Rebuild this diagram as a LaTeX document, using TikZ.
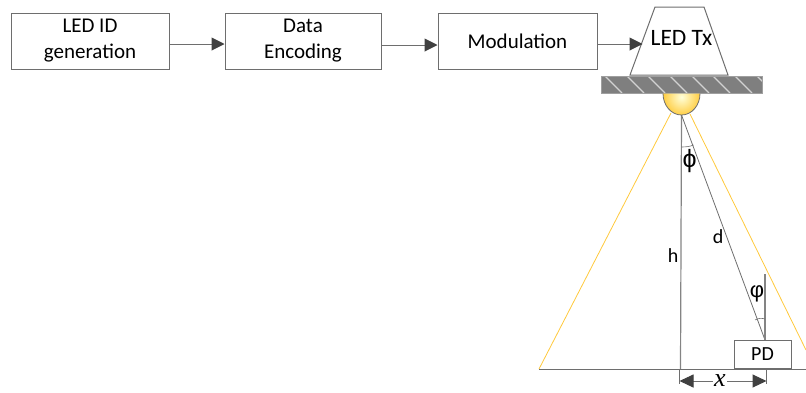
\documentclass[tikz,border=0pt]{standalone}
\usepackage{fontspec}
\setmainfont{Carlito}
\newfontfamily\symfont{Liberation Sans}
\newfontfamily\serifx{Liberation Serif}
\usetikzlibrary{arrows.meta,positioning,shapes.geometric}
\definecolor{edgegray}{HTML}{6E6E6E}
\definecolor{tipgray}{HTML}{404040}
\definecolor{beam}{HTML}{FFC93C}
\definecolor{barfill}{HTML}{7F7F7F}
\definecolor{ledgold}{HTML}{FFBE14}
\tikzset{
  stepbox/.style={draw=edgegray,line width=1pt,minimum width=#1,minimum height=56pt,inner sep=0pt,align=center,font=\fontsize{21}{26}\selectfont},
  flow/.style={draw=edgegray,line width=1pt,-{Triangle[length=13pt,width=13pt,color=tipgray]}},
  thin line/.style={draw=edgegray,line width=1pt},
  beamline/.style={draw=beam,line width=0.8pt},
  lab/.style={inner sep=0pt,font=\fontsize{20}{22}\selectfont},
}
\begin{document}
\begin{tikzpicture}[x=1pt,y=-1pt]
\useasboundingbox (0,0) rectangle (806,392);
\node[stepbox=158pt] (idgen) at (90,41) {LED ID\\generation};
\node[stepbox=156pt] (enc) at (303,41) {Data\\Encoding};
\node[stepbox=159pt] (mod) at (517.5,41) {Modulation};
% trapezoid
\coordinate (tl) at (655,7); \coordinate (tr) at (704,7);
\coordinate (bl) at (630,75); \coordinate (br) at (728,75);
\draw[thin line,fill=white] (tl) -- (tr) -- (br) -- (bl) -- cycle;
\node[inner sep=0pt,font=\fontsize{23.5}{26}\selectfont] (tx) at (681.5,38) {LED Tx};
\coordinate (txin) at (642.5,44);
\draw[flow] (idgen.east |- 0,44) -- (enc.west |- 0,44);
\draw[flow] (enc.east |- 0,45) -- (mod.west |- 0,45);
\draw[flow] (mod.east |- 0,44) -- (txin);
% bar
\coordinate (bar1) at (601,76); \coordinate (bar2) at (762,93);
\fill[barfill] (bar1) rectangle (bar2);
\begin{scope}
\clip (bar1) rectangle (bar2);
\foreach \s in {605,627,648,670,692,713,735,757}
  \draw[white!65!barfill,line width=1.3pt] (\s,76) -- (\s+17,93);
\end{scope}
\draw[draw=barfill!75!white,line width=1pt] (bar1) rectangle (bar2);
% LED dome
\coordinate (ledtip) at (681.5,115);
\begin{scope}
\clip (663,93.5) arc[start angle=180,end angle=0,x radius=18.5,y radius=21.5] -- cycle;
\shade[inner color=yellow!15!white,outer color=ledgold,shading=radial] (681.5,97) circle[radius=24];
\end{scope}
\draw[edgegray,line width=0.8pt] (663,93.5) arc[start angle=180,end angle=0,x radius=18.5,y radius=21.5];
% beams
\coordinate (bl1) at (671,113); \coordinate (bl2) at (539,369);
\coordinate (br1) at (690,114); \coordinate (br2) at (806,350);
\draw[beamline] (bl1) -- (bl2);
\draw[beamline] (br1) -- (br2);
% PD
\node[draw=edgegray,line width=1pt,minimum width=57pt,minimum height=28pt,inner sep=0pt,font=\fontsize{20}{22}\selectfont] (pd) at (762.5,354) {PD};
% geometry
\coordinate (foot) at (680.5,369);
\coordinate (gl) at (539,369.5); \coordinate (gr) at (806,369.5);
\coordinate (normtop) at (765,274); \coordinate (pdtop) at (765,340);
\draw[edgegray,line width=1.1pt] (gl) -- (gr);
\draw[edgegray!85!white,line width=1.2pt] (ledtip) -- (foot);
\draw[edgegray,line width=0.8pt] (ledtip) -- (pdtop);
\draw[edgegray!85!white,line width=1.1pt] (normtop) -- (pdtop);
\draw[edgegray,line width=0.6pt] (681.5,147) .. controls (686,147) and (690,146.5) .. (693.5,145);
\draw[edgegray,line width=0.6pt] (755,320) .. controls (758,318) and (762,318) .. (765,319);
% labels
\node[inner sep=0pt,font=\symfont\fontsize{25}{26}\selectfont] (phi) at (689.5,161) {ϕ};
\node[inner sep=0pt,font=\symfont\fontsize{22}{24}\selectfont] (vphi) at (757,294) {φ};
\node[lab] (h) at (673,256) {h};
\node[lab] (d) at (718,237) {d};
% x dimension
\coordinate (xl) at (679.5,369.5); \coordinate (xr) at (766.5,369.5);
\coordinate (xla) at (679.5,381); \coordinate (xra) at (766.5,381);
\draw[edgegray,line width=0.8pt] (xl) -- (679.5,384);
\draw[edgegray,line width=0.8pt] (xr) -- (766.5,384);
\draw[edgegray,line width=1pt,{Triangle[length=14pt,width=13pt,color=tipgray]}-{Triangle[length=14pt,width=13pt,color=tipgray]}] (xla) -- (xra);
\node[inner sep=1pt,fill=white,font=\serifx\itshape\fontsize{26}{26}\selectfont] (xlab) at (720,381) {x};
\end{tikzpicture}
\end{document}
